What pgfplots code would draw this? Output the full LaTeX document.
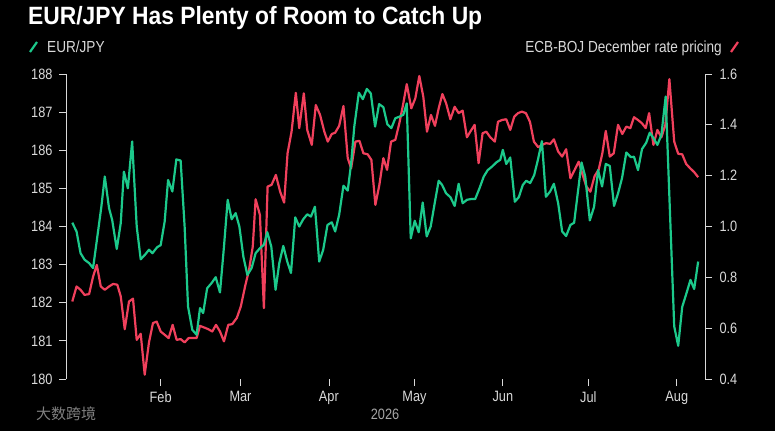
\documentclass[border=0pt]{standalone}
\usepackage{fontspec}
\setmainfont{Liberation Sans}[FakeStretch=0.85]
\newfontfamily\cjk{Noto Sans CJK SC}
\usepackage{pgfplots}
\pgfplotsset{compat=1.18}
\definecolor{eurgreen}{HTML}{1CC98B}
\definecolor{ecbred}{HTML}{F0405C}
\definecolor{ticklab}{HTML}{D9D9D9}
\definecolor{yeargray}{HTML}{A6A6A6}
\begin{document}
\begin{tikzpicture}
\fill[black] (0,0) rectangle (775pt,431pt);
\useasboundingbox (0,0) rectangle (775pt,431pt);
% title
\node[anchor=base west, inner sep=0, text=white] at (28pt,406pt)
  {\resizebox{454pt}{\height}{\fontsize{25}{25}\selectfont\bfseries EUR/JPY Has Plenty of Room to Catch Up}};
% legend
\draw[eurgreen, line width=2.2pt] (30pt,379pt) -- (37pt,389pt);
\node[anchor=base west, inner sep=0, text=ticklab] at (47pt,378pt) {\fontsize{16}{16}\selectfont EUR/JPY};
\draw[ecbred, line width=2.2pt] (731pt,379pt) -- (738pt,389pt);
\node[anchor=base east, inner sep=0, text=ticklab] at (722pt,378pt) {\fontsize{16}{16}\selectfont ECB-BOJ December rate pricing};
% year and watermark
\node[anchor=center, inner sep=0, text=yeargray] at (385pt,17pt) {\fontsize{15}{15}\selectfont 2026};
\node[anchor=west, inner sep=0, text=gray] at (36pt,17pt) {\cjk\fontsize{15}{15}\selectfont 大数跨境};

% right axis: ECB-BOJ pricing
\begin{axis}[
  at={(66pt,52pt)}, anchor=south west,
  width=639pt, height=305pt, scale only axis,
  xmin=-2.2, xmax=221.9, ymin=0.4, ymax=1.6,
  axis y line*=right, axis x line=none,
  y axis line style={draw=ticklab, line width=0.8pt},
  ytick={0.4,0.6,0.8,1.0,1.2,1.4,1.6},
  yticklabel style={/pgf/number format/fixed, /pgf/number format/fixed zerofill, /pgf/number format/precision=1, /tikz/xshift=4pt},
  tick align=outside, major tick length=7pt,
  tick style={draw=ticklab, line width=0.8pt},
  ticklabel style={text=ticklab, font=\fontsize{15}{15}\selectfont},
  /pgf/number format/assume math mode=true,
  clip=false,
]
\addplot[ecbred, line width=2.2pt, line join=round, no markers] coordinates {
(0.0,0.705)(1.5,0.764)(2.9,0.751)(4.3,0.731)(5.9,0.734)(7.3,0.803)(8.6,0.849)(10.0,0.764)(11.4,0.751)(12.9,0.764)(14.3,0.774)(15.8,0.771)(17.0,0.725)(18.4,0.596)(19.9,0.705)(21.3,0.716)(22.6,0.554)(24.0,0.578)(25.4,0.417)(26.9,0.544)(28.3,0.620)(29.6,0.626)(31.0,0.587)(32.4,0.574)(33.8,0.561)(35.2,0.613)(36.6,0.554)(38.0,0.557)(39.4,0.544)(40.8,0.561)(42.7,0.561)(43.6,0.561)(44.8,0.609)(46.4,0.602)(47.7,0.596)(49.1,0.587)(50.4,0.613)(51.8,0.587)(53.2,0.548)(54.7,0.613)(56.1,0.616)(57.7,0.640)(59.1,0.685)(60.6,0.764)(62.0,0.830)(63.3,0.921)(64.3,1.107)(65.8,1.046)(67.2,0.679)(68.5,1.157)(69.9,1.164)(71.4,1.203)(72.9,1.137)(74.3,1.094)(75.5,1.288)(76.9,1.373)(78.4,1.526)(79.6,1.387)(81.2,1.524)(82.4,1.380)(84.0,1.321)(85.4,1.478)(86.9,1.439)(88.4,1.373)(89.6,1.334)(91.0,1.364)(92.2,1.369)(93.6,1.396)(95.1,1.474)(96.6,1.269)(97.8,1.229)(99.3,1.334)(100.7,1.337)(102.1,1.288)(103.6,1.284)(104.9,1.262)(106.3,1.085)(107.7,1.164)(109.1,1.269)(110.4,1.223)(111.8,1.334)(113.3,1.341)(114.7,1.406)(116.1,1.485)(117.3,1.560)(118.9,1.465)(120.3,1.504)(121.7,1.592)(123.1,1.511)(124.4,1.373)(125.8,1.439)(127.2,1.396)(128.5,1.465)(129.8,1.521)(131.1,1.485)(132.6,1.422)(134.1,1.471)(135.5,1.446)(136.9,1.456)(138.4,1.351)(139.8,1.377)(141.1,1.400)(142.5,1.249)(143.9,1.367)(145.2,1.373)(146.6,1.351)(148.2,1.334)(149.3,1.412)(150.7,1.419)(152.2,1.422)(153.6,1.380)(155.0,1.432)(156.3,1.446)(157.7,1.452)(159.1,1.446)(160.5,1.412)(161.9,1.334)(163.4,1.312)(164.7,1.321)(166.2,1.328)(167.6,1.325)(168.9,1.343)(170.4,1.295)(171.8,1.275)(173.2,1.304)(174.7,1.190)(176.2,1.223)(177.6,1.255)(178.8,1.210)(180.3,1.157)(181.7,1.137)(183.2,1.199)(184.6,1.223)(185.9,1.288)(187.1,1.376)(188.5,1.275)(189.9,1.288)(191.4,1.400)(192.9,1.364)(194.3,1.393)(195.7,1.387)(197.0,1.430)(198.4,1.419)(199.8,1.406)(201.1,1.387)(202.3,1.446)(203.8,1.321)(205.2,1.380)(206.6,1.351)(208.0,1.400)(209.4,1.580)(211.1,1.334)(212.5,1.286)(213.9,1.284)(215.3,1.246)(216.7,1.229)(218.1,1.214)(219.5,1.194)
};
\end{axis}

% left axis: EUR/JPY
\begin{axis}[
  at={(66pt,52pt)}, anchor=south west,
  width=639pt, height=305pt, scale only axis,
  xmin=-2.2, xmax=221.9, ymin=180, ymax=188,
  axis y line*=left, axis x line*=bottom,
  x axis line style={draw=none},
  y axis line style={draw=ticklab, line width=0.8pt},
  xtick={31,59,90,120,151,181,212},
  xticklabels={Feb,Mar,Apr,May,Jun,Jul,Aug},
  xticklabel style={yshift=-2pt},
  ytick={180,181,182,183,184,185,186,187,188},
  yticklabel style={xshift=-3pt},
  tick align=outside, major tick length=7pt,
  tick style={draw=ticklab, line width=0.8pt},
  ticklabel style={text=ticklab, font=\fontsize{15}{15}\selectfont},
  /pgf/number format/assume math mode=true,
  clip=false,
]
\addplot[eurgreen, line width=2.2pt, line join=round, no markers] coordinates {
(0.0,184.10)(1.5,183.87)(2.9,183.30)(4.3,183.13)(5.9,183.04)(7.3,182.91)(8.8,183.74)(10.2,184.52)(11.4,185.31)(12.9,184.48)(14.0,184.17)(15.6,183.41)(17.0,184.09)(18.1,185.44)(19.5,185.00)(21.0,186.23)(22.6,184.00)(24.0,183.14)(25.5,183.26)(26.9,183.39)(28.1,183.30)(29.8,183.46)(31.0,183.51)(32.4,184.13)(33.6,185.22)(35.1,184.92)(36.5,185.76)(38.0,185.73)(39.4,184.00)(40.6,181.90)(42.1,181.29)(43.6,181.16)(44.8,181.86)(45.9,181.73)(47.3,182.38)(48.9,182.52)(50.3,182.67)(51.8,182.27)(53.2,183.47)(54.5,184.70)(55.9,184.19)(57.3,184.35)(58.6,184.00)(60.0,183.21)(61.4,182.73)(62.9,182.91)(64.3,183.30)(65.8,183.43)(67.2,183.52)(68.4,183.85)(69.8,183.47)(71.3,182.34)(72.6,183.04)(74.0,183.49)(75.4,183.08)(76.7,182.78)(78.2,184.24)(79.6,184.00)(81.0,184.19)(82.4,184.32)(83.7,184.26)(85.1,184.52)(86.6,183.08)(88.0,183.39)(89.5,184.04)(91.0,184.11)(92.2,183.87)(93.6,184.31)(95.1,185.07)(96.6,184.94)(97.8,185.66)(98.9,186.62)(100.5,187.51)(101.9,187.34)(103.3,187.61)(104.7,187.49)(106.2,186.62)(107.6,187.21)(109.1,187.13)(110.5,186.68)(111.9,186.58)(113.3,186.84)(114.7,186.88)(116.1,186.93)(117.3,187.23)(118.7,183.69)(120.1,184.15)(121.5,183.85)(122.9,184.63)(124.3,183.74)(125.7,184.00)(127.1,184.61)(128.5,185.20)(129.7,185.09)(131.1,184.87)(132.6,184.77)(134.1,184.54)(135.5,185.12)(136.9,184.61)(138.4,184.70)(139.8,184.72)(141.3,184.72)(142.8,185.00)(144.3,185.31)(145.7,185.48)(147.2,185.57)(148.7,185.68)(150.1,185.75)(151.0,186.01)(152.2,185.64)(153.6,185.81)(155.2,184.65)(156.6,184.77)(158.0,185.09)(159.2,185.20)(160.6,185.14)(162.0,185.35)(163.3,185.75)(164.7,186.24)(166.1,184.78)(167.6,184.92)(168.9,185.12)(170.4,184.61)(171.8,183.87)(173.2,183.75)(174.7,184.04)(176.0,184.10)(178.6,185.68)(179.9,185.31)(181.5,184.16)(183.0,184.52)(184.4,185.48)(185.8,185.05)(187.1,185.64)(188.5,185.59)(190.0,184.54)(191.4,184.87)(192.8,185.27)(194.3,185.94)(195.9,185.82)(197.0,185.83)(198.4,185.48)(199.8,186.03)(201.3,186.20)(202.5,186.46)(203.8,186.32)(205.2,186.14)(206.6,186.40)(208.1,187.41)(211.1,181.38)(212.5,180.87)(213.9,181.89)(215.4,182.25)(216.8,182.60)(218.1,182.36)(219.5,183.08)
};
\end{axis}
\end{tikzpicture}
\end{document}
